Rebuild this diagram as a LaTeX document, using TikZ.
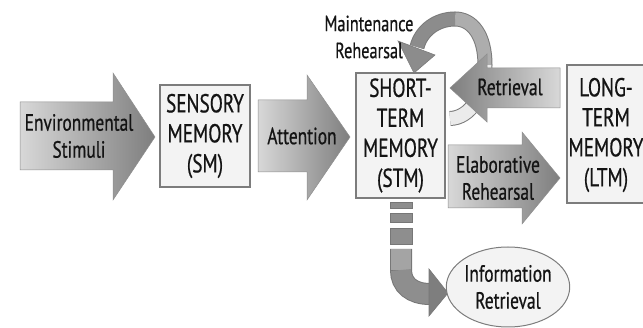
\documentclass[tikz,border=0pt]{standalone}
\usepackage{fontspec}
\setmainfont{PT Sans}[FakeStretch=0.74, FakeBold=0.6]
\usetikzlibrary{shapes.geometric}

\definecolor{boxfill}{HTML}{F3F3F3}
\definecolor{boxline}{HTML}{7C7C7C}
\definecolor{inktext}{HTML}{141414}
\definecolor{shadelight}{HTML}{D8D8D8}
\definecolor{shadedark}{HTML}{7E7E7E}
\definecolor{edgegray}{HTML}{8E8E8E}
\definecolor{loopdark}{HTML}{8C8C8C}
\definecolor{loopmid}{HTML}{ADADAD}
\definecolor{looptail}{HTML}{EBEBEB}
\definecolor{loopedge}{HTML}{7A7A7A}
\definecolor{jlight}{HTML}{A4A4A4}
\definecolor{jbody}{HTML}{8E8E8E}
\definecolor{jedge}{HTML}{777777}

\tikzset{
  membox/.style={draw=boxline, line width=1.4pt, fill=boxfill, text=inktext,
    align=center, font=\fontsize{26}{30}\selectfont, inner sep=0pt},
  boxtext/.style={text=inktext, align=center,
    font=\fontsize{26}{30}\selectfont, inner sep=0pt},
  rightarrow/.style={left color=shadelight, right color=shadedark,
    draw=edgegray, line width=0.5pt},
  leftarrow/.style={left color=shadedark, right color=shadelight,
    draw=edgegray, line width=0.5pt},
  arrowlabel/.style={text=inktext, align=center,
    font=\fontsize{23.5}{27}\selectfont, inner sep=0pt},
  smalllabel/.style={text=inktext, align=center,
    font=\fontsize{22}{27}\selectfont, inner sep=0pt},
  dashbar/.style={fill=jbody, draw=jedge, line width=0.6pt},
}

\begin{document}
\begin{tikzpicture}[x=1pt,y=-1pt]
\path[use as bounding box] (0,0) rectangle (643,328);
\clip (0,0) rectangle (643,328);

% ---- memory stores ----
\node[membox, minimum width=90pt, minimum height=102pt] (sm) at (205,136)
  {SENSORY\\MEMORY\\(SM)};
\node[membox, minimum width=89pt, minimum height=125pt] (stm) at (400.5,135.5)
  {SHORT-\\TERM\\MEMORY\\(STM)};
\node[membox, minimum width=86pt, minimum height=138pt] (ltm) at (610,134) {};
\node[boxtext] (ltmtext) at (606,135) {LONG-\\TERM\\MEMORY\\(LTM)};

% ---- block arrows ----
\path[rightarrow] (20,102) -- (113,102) -- (113,73) -- (155,137)
  -- (113,200) -- (113,170) -- (20,170) -- cycle;
\node[arrowlabel] (env) at (79,136) {Environmental\\Stimuli};

\path[rightarrow] (258,100) -- (307,100) -- (307,75) -- (350,137)
  -- (307,200) -- (307,172) -- (258,172) -- cycle;
\node[arrowlabel] (att) at (302,136) {Attention};

\path[rightarrow] (448,145) -- (522,145) -- (522,132) -- (560,178)
  -- (522,224) -- (522,208) -- (448,208) -- cycle;
\node[arrowlabel] (elab) at (498,178) {Elaborative\\Rehearsal};

% ---- maintenance rehearsal loop (drawn below the retrieval arrow) ----
\coordinate (lt) at (450,118.5);
\coordinate (lr) at (485,65);
\coordinate (ltop) at (455,19);
\coordinate (lend) at (417,47);
\draw[loopedge, line width=15pt] (lt) .. controls (470,118) and (485,95) .. (lr)
  .. controls (485,35) and (472,19) .. (ltop)
  .. controls (436,19) and (421,31) .. (lend);
\draw[looptail, line width=13pt] (lt) .. controls (470,118) and (485,95) .. (lr);
\draw[loopmid, line width=13pt] (lr) .. controls (485,35) and (472,19) .. (ltop);
\draw[loopdark, line width=13pt] (ltop) .. controls (436,19) and (421,31) .. (lend);
\fill[loopdark, draw=loopedge, line width=0.6pt] (398,41) -- (435,55) -- (414,73) -- cycle;
\node[smalllabel] (maint) at (369,37) {Maintenance\\Rehearsal};

\path[leftarrow] (560,68) -- (487,68) -- (487,54) -- (450,88)
  -- (487,122) -- (487,108) -- (560,108) -- cycle;
\node[arrowlabel] (retr) at (510,87) {Retrieval};

% ---- path from STM down to information retrieval ----
\path[dashbar] (390,202) rectangle (412,208);
\path[dashbar] (390,213) rectangle (412,222);
\path[dashbar] (390,228) rectangle (412,244);
\coordinate (jtop) at (401,249);
\coordinate (jmid) at (401,270);
\coordinate (jend) at (430,294);
\draw[jedge, line width=22pt] (jtop) -- (jmid) .. controls (401,285) and (412,294) .. (jend);
\draw[jlight, line width=20pt] (jtop) -- (jmid);
\draw[jbody, line width=20pt] (jmid) .. controls (401,285) and (412,294) .. (jend);
\fill[shadedark, draw=jedge, line width=0.6pt] (429,269) -- (448,293) -- (429,316) -- cycle;

\node[ellipse, draw=boxline, line width=1pt, fill=boxfill, minimum width=116pt,
  minimum height=80pt, arrowlabel] (info) at (508,287) {Information\\Retrieval};
\end{tikzpicture}
\end{document}
